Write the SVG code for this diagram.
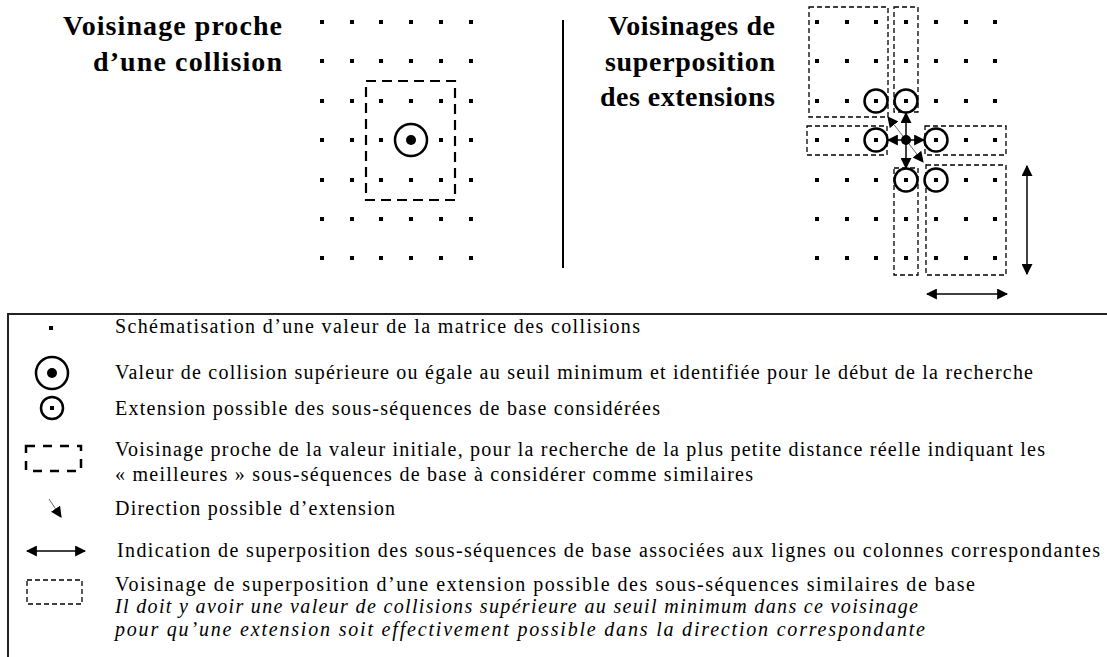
<svg xmlns="http://www.w3.org/2000/svg" xmlns:xlink="http://www.w3.org/1999/xlink" width="1107" height="657" viewBox="0 0 1107 657">
<style>
.h{font-family:"Liberation Serif","Times New Roman",serif;font-weight:bold;font-size:28px;text-anchor:end;fill:#000}
.t{font-family:"Liberation Serif","Times New Roman",serif;font-size:20px;fill:#000}
.ti{font-style:italic}
.thick{fill:none;stroke:#000;stroke-width:2.2;stroke-dasharray:10 6}
.thin{fill:none;stroke:#000;stroke-width:1.3;stroke-dasharray:5 3}
.circ{fill:#fff;stroke:#000;stroke-width:2.5}
.ln{stroke:#000;stroke-width:1.5;fill:none}
.faint{stroke:#666;stroke-width:1;fill:none}
</style>
<defs>
<rect id="d" x="-2" y="-2" width="4" height="4" fill="#000"/>
<marker id="ah" viewBox="0 0 10 10" refX="9" refY="5" markerWidth="11" markerHeight="11" markerUnits="userSpaceOnUse" orient="auto-start-reverse">
<path d="M0,0 L10,5 L0,10 Z" fill="#000"/>
</marker>
</defs>
<rect width="1107" height="657" fill="#fff"/>

<g id="titles">
<text class="h" x="282" y="35" textLength="219" lengthAdjust="spacing">Voisinage proche</text>
<text class="h" x="282" y="71" textLength="189" lengthAdjust="spacing">d’une collision</text>
<text class="h" x="775" y="35" textLength="167" lengthAdjust="spacing">Voisinages de</text>
<text class="h" x="775" y="71" textLength="170" lengthAdjust="spacing">superposition</text>
<text class="h" x="775" y="106" textLength="175" lengthAdjust="spacing">des extensions</text>
</g>

<g id="divider">
<line x1="563" y1="20" x2="563" y2="268" stroke="#000" stroke-width="2"/>
</g>

<g id="left-grid">
<use xlink:href="#d" x="322" y="22"/><use xlink:href="#d" x="352" y="22"/><use xlink:href="#d" x="381" y="22"/><use xlink:href="#d" x="411" y="22"/><use xlink:href="#d" x="441" y="22"/><use xlink:href="#d" x="471" y="22"/>
<use xlink:href="#d" x="322" y="61"/><use xlink:href="#d" x="352" y="61"/><use xlink:href="#d" x="381" y="61"/><use xlink:href="#d" x="411" y="61"/><use xlink:href="#d" x="441" y="61"/><use xlink:href="#d" x="471" y="61"/>
<use xlink:href="#d" x="322" y="101"/><use xlink:href="#d" x="352" y="101"/><use xlink:href="#d" x="381" y="101"/><use xlink:href="#d" x="411" y="101"/><use xlink:href="#d" x="441" y="101"/><use xlink:href="#d" x="471" y="101"/>
<use xlink:href="#d" x="322" y="140"/><use xlink:href="#d" x="352" y="140"/><use xlink:href="#d" x="381" y="140"/><use xlink:href="#d" x="441" y="140"/><use xlink:href="#d" x="471" y="140"/>
<use xlink:href="#d" x="322" y="180"/><use xlink:href="#d" x="352" y="180"/><use xlink:href="#d" x="381" y="180"/><use xlink:href="#d" x="411" y="180"/><use xlink:href="#d" x="441" y="180"/><use xlink:href="#d" x="471" y="180"/>
<use xlink:href="#d" x="322" y="219"/><use xlink:href="#d" x="352" y="219"/><use xlink:href="#d" x="381" y="219"/><use xlink:href="#d" x="411" y="219"/><use xlink:href="#d" x="441" y="219"/><use xlink:href="#d" x="471" y="219"/>
<use xlink:href="#d" x="322" y="258"/><use xlink:href="#d" x="352" y="258"/><use xlink:href="#d" x="381" y="258"/><use xlink:href="#d" x="411" y="258"/><use xlink:href="#d" x="441" y="258"/><use xlink:href="#d" x="471" y="258"/>
<rect class="thick" x="366" y="81" width="89" height="119"/>
</g>

<g id="left-collision">
<circle class="circ" cx="411" cy="140" r="16"/>
<circle cx="411" cy="140" r="5" fill="#000"/>
</g>

<g id="right-grid">
<use xlink:href="#d" x="817" y="22"/><use xlink:href="#d" x="847" y="22"/><use xlink:href="#d" x="876" y="22"/><use xlink:href="#d" x="906" y="22"/><use xlink:href="#d" x="936" y="22"/><use xlink:href="#d" x="966" y="22"/><use xlink:href="#d" x="995" y="22"/>
<use xlink:href="#d" x="817" y="61"/><use xlink:href="#d" x="847" y="61"/><use xlink:href="#d" x="876" y="61"/><use xlink:href="#d" x="906" y="61"/><use xlink:href="#d" x="936" y="61"/><use xlink:href="#d" x="966" y="61"/><use xlink:href="#d" x="995" y="61"/>
<use xlink:href="#d" x="817" y="101"/><use xlink:href="#d" x="847" y="101"/><use xlink:href="#d" x="936" y="101"/><use xlink:href="#d" x="966" y="101"/><use xlink:href="#d" x="995" y="101"/>
<use xlink:href="#d" x="817" y="140"/><use xlink:href="#d" x="847" y="140"/><use xlink:href="#d" x="966" y="140"/><use xlink:href="#d" x="995" y="140"/>
<use xlink:href="#d" x="817" y="180"/><use xlink:href="#d" x="847" y="180"/><use xlink:href="#d" x="876" y="180"/><use xlink:href="#d" x="966" y="180"/><use xlink:href="#d" x="995" y="180"/>
<use xlink:href="#d" x="817" y="219"/><use xlink:href="#d" x="847" y="219"/><use xlink:href="#d" x="876" y="219"/><use xlink:href="#d" x="906" y="219"/><use xlink:href="#d" x="936" y="219"/><use xlink:href="#d" x="966" y="219"/><use xlink:href="#d" x="995" y="219"/>
<use xlink:href="#d" x="817" y="258"/><use xlink:href="#d" x="847" y="258"/><use xlink:href="#d" x="876" y="258"/><use xlink:href="#d" x="906" y="258"/><use xlink:href="#d" x="936" y="258"/><use xlink:href="#d" x="966" y="258"/><use xlink:href="#d" x="995" y="258"/>
<rect class="thin" x="809" y="7" width="79" height="110"/>
<rect class="thin" x="894" y="7" width="24" height="105"/>
<rect class="thin" x="807" y="126" width="80" height="29"/>
<rect class="thin" x="925" y="126" width="81" height="29"/>
<rect class="thin" x="894" y="168" width="24" height="107"/>
<rect class="thin" x="926" y="165" width="80" height="110"/>
</g>

<g id="connectors">
<line class="faint" x1="906" y1="140" x2="888" y2="117" marker-end="url(#ah)"/>
<line class="faint" x1="906" y1="140" x2="923" y2="162" marker-end="url(#ah)"/>
<line class="ln" x1="906" y1="140" x2="906" y2="113" marker-end="url(#ah)"/>
<line class="ln" x1="906" y1="140" x2="888" y2="140" marker-end="url(#ah)"/>
<line class="ln" x1="906" y1="140" x2="924" y2="140" marker-end="url(#ah)"/>
<line class="ln" x1="906" y1="140" x2="906" y2="168" marker-end="url(#ah)"/>
<line class="ln" x1="927" y1="294" x2="1007" y2="294" marker-start="url(#ah)" marker-end="url(#ah)"/>
<line class="ln" x1="1027" y1="166" x2="1027" y2="274" marker-start="url(#ah)" marker-end="url(#ah)"/>
</g>

<g id="extensions">
<circle class="circ" cx="876" cy="101" r="11.5"/><use xlink:href="#d" x="876" y="101"/>
<circle class="circ" cx="906" cy="101" r="11.5"/><use xlink:href="#d" x="906" y="101"/>
<circle class="circ" cx="876" cy="140" r="11.5"/><use xlink:href="#d" x="876" y="140"/>
<circle class="circ" cx="936" cy="140" r="11.5"/><use xlink:href="#d" x="936" y="140"/>
<circle class="circ" cx="906" cy="180" r="11.5"/><use xlink:href="#d" x="906" y="180"/>
<circle class="circ" cx="936" cy="180" r="11.5"/><use xlink:href="#d" x="936" y="180"/>
<circle cx="906" cy="140" r="5" fill="#000"/>
</g>

<g id="legend">
<path d="M8,657 V314 H1107" fill="none" stroke="#222" stroke-width="2"/>
<use xlink:href="#d" x="51" y="328"/>
<circle class="circ" cx="52" cy="373" r="16"/>
<circle cx="52" cy="373" r="5" fill="#000"/>
<circle class="circ" cx="52" cy="408" r="11"/>
<use xlink:href="#d" x="52" y="408"/>
<rect x="26" y="446" width="55" height="25" fill="none" stroke="#000" stroke-width="2.5" stroke-dasharray="9 8"/>
<line class="faint" x1="49" y1="499" x2="61" y2="517" marker-end="url(#ah)"/>
<line class="ln" x1="27" y1="551" x2="85" y2="551" marker-start="url(#ah)" marker-end="url(#ah)"/>
<rect class="thin" x="27" y="580" width="55" height="24"/>
<text class="t" x="115" y="333" textLength="525" lengthAdjust="spacing">Schématisation d’une valeur de la matrice des collisions</text>
<text class="t" x="115" y="379" textLength="918" lengthAdjust="spacing">Valeur de collision supérieure ou égale au seuil minimum et identifiée pour le début de la recherche</text>
<text class="t" x="115" y="415" textLength="545" lengthAdjust="spacing">Extension possible des sous-séquences de base considérées</text>
<text class="t" x="115" y="456" textLength="930" lengthAdjust="spacing">Voisinage proche de la valeur initiale, pour la recherche de la plus petite distance réelle indiquant les</text>
<text class="t" x="115" y="481" textLength="638" lengthAdjust="spacing">« meilleures » sous-séquences de base à considérer comme similaires</text>
<text class="t" x="115" y="515" textLength="280" lengthAdjust="spacing">Direction possible d’extension</text>
<text class="t" x="117" y="557" textLength="983" lengthAdjust="spacing">Indication de superposition des sous-séquences de base associées aux lignes ou colonnes correspondantes</text>
<text class="t" x="115" y="591" textLength="860" lengthAdjust="spacing">Voisinage de superposition d’une extension possible des sous-séquences similaires de base</text>
<text class="t ti" x="115" y="613" textLength="803" lengthAdjust="spacing">Il doit y avoir une valeur de collisions supérieure au seuil minimum dans ce voisinage</text>
<text class="t ti" x="115" y="636" textLength="810" lengthAdjust="spacing">pour qu’une extension soit effectivement possible dans la direction correspondante</text>
</g>
</svg>
